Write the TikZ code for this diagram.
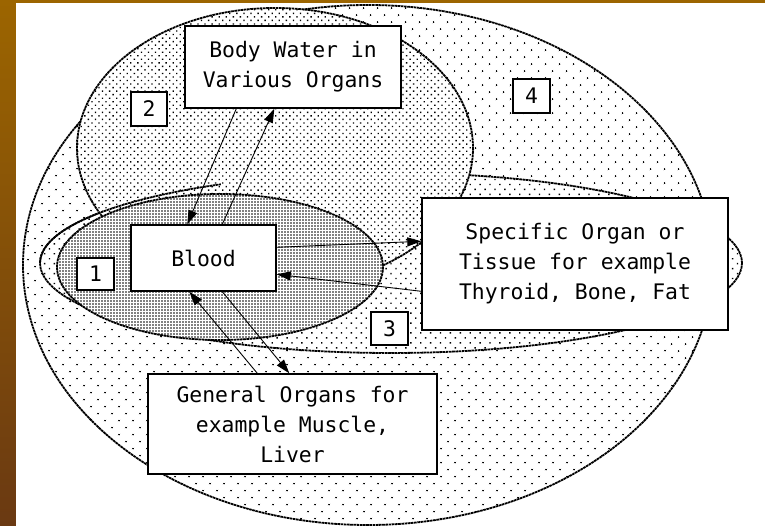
\documentclass[tikz,border=0pt]{standalone}
\usepackage{fontspec}
\newfontfamily\diagfont{DejaVu Sans Mono}
\usetikzlibrary{patterns.meta,arrows.meta}
\definecolor{brownA}{HTML}{9C6500}
\definecolor{brownB}{HTML}{6A3912}
\begin{document}
\begin{tikzpicture}[x=1pt,y=-1pt,
  region/.style={preaction={fill=white}, line width=1.8pt, dash pattern=on 2.6pt off 0.6pt},
  regionline/.style={line width=1.8pt, dash pattern=on 2.6pt off 0.6pt},
  box/.style={draw=black, line width=1.4pt, fill=white, inner sep=0pt, align=center,
              font=\diagfont\fontsize{21.4}{30}\selectfont},
  flow/.style={line width=0.9pt, -{Triangle[length=14pt,width=9pt]}}
]
\useasboundingbox (0,0) rectangle (765,526);
\shade[top color=brownA, bottom color=brownB] (0,0) rectangle (16,526);
\fill[brownA] (0,0) rectangle (765,3);
\fill[white] (16,3) rectangle (765,526);
% region 4
\draw[region, pattern={Dots[distance=10.5pt,angle=45,radius=1pt]}] (368,265) ellipse [x radius=345, y radius=260];
% region 3
\draw[region, pattern={Dots[distance=7pt,angle=45,radius=1pt]}] (391,263) ellipse [x radius=351, y radius=90];
% region 2
\draw[region, pattern={Dots[distance=5pt,angle=45,radius=0.95pt]}] (275,148) ellipse [x radius=198, y radius=140];
% left part of region 3 outline, visible over region 2
\draw[regionline] (40,263) arc[start angle=180, end angle=241, x radius=351, y radius=90];
% region 1
\draw[region, pattern={Dots[distance=3pt,radius=0.8pt]}] (220,267) ellipse [x radius=163, y radius=73];

% boxes
\node[box, minimum width=216pt, minimum height=82pt] (bw) at (293,67) {Body Water in\\Various Organs};
\node[box, minimum width=306pt, minimum height=132pt] (spec) at (575,264) {Specific Organ or\\Tissue for example\\Thyroid, Bone, Fat};
\node[box, minimum width=145pt, minimum height=66pt] (blood) at (203.5,258) {Blood};
\node[box, minimum width=289pt, minimum height=100pt] (gen) at (292.5,424) {General Organs for\\example Muscle,\\Liver};
\node[box, minimum width=37pt, minimum height=32pt] (n1) at (95.5,274) {1};
\node[box, minimum width=36pt, minimum height=34pt] (n2) at (149,109) {2};
\node[box, minimum width=37pt, minimum height=33pt] (n3) at (389.5,328.5) {3};
\node[box, minimum width=37pt, minimum height=34pt] (n4) at (531.5,96) {4};

% connectors
\draw[flow] ([xshift=52pt]bw.south west) -- ([xshift=57pt]blood.north west);
\draw[flow] ([xshift=92pt]blood.north west) -- ([xshift=90pt]bw.south west);
\draw[flow] ([yshift=-23pt]blood.north east) -- ([yshift=-44pt]spec.north west);
\draw[flow] ([yshift=-94pt]spec.north west) -- ([yshift=-50pt]blood.north east);
\draw[flow] ([xshift=110pt]gen.north west) -- ([xshift=59pt]blood.south west);
\draw[flow] ([xshift=92pt]blood.south west) -- ([xshift=142pt]gen.north west);
\end{tikzpicture}
\end{document}
